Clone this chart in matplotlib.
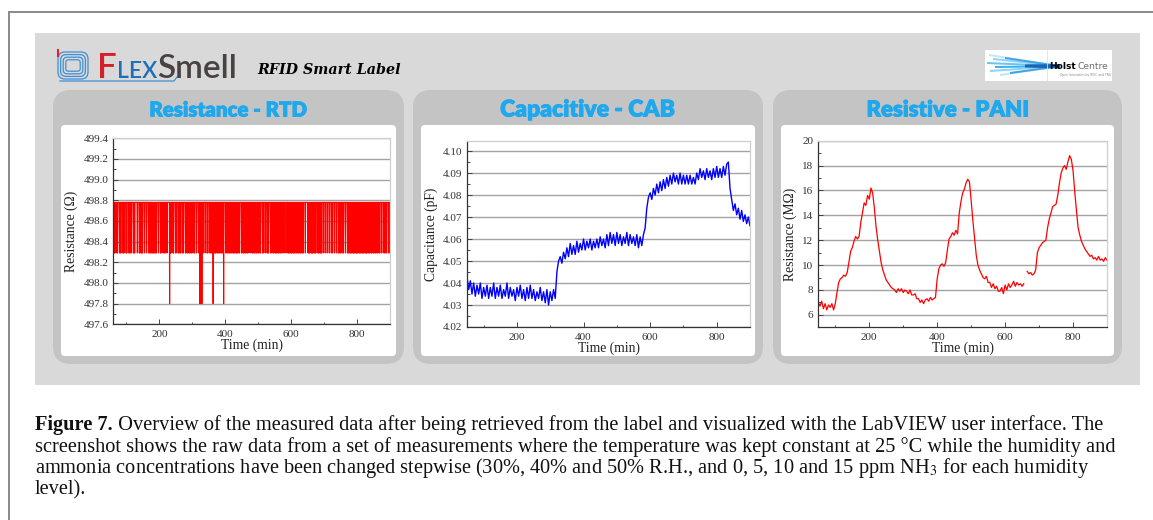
import numpy as np
import matplotlib
matplotlib.use("Agg")
import matplotlib.pyplot as plt
import matplotlib.patheffects as pe
from matplotlib.patches import FancyBboxPatch, Rectangle, Polygon
from matplotlib.ticker import MultipleLocator, FixedLocator, FormatStrFormatter

plt.rcParams['font.family'] = ['Liberation Serif', 'DejaVu Serif']
plt.rcParams['mathtext.fontset'] = 'stix'

# ---------------- data ----------------
time_ticks = [200, 400, 600, 800]

# RTD: reading flips between two quantised levels; intervals (min) with dense flipping
rtd_high = 498.78
rtd_low = 498.29
rtd_drop = 497.80
rtd_toggle_intervals = [
    (60, 65), (70, 73), (78, 84), (89, 93), (98, 101), (106, 109), (113, 115),
    (120, 126), (132, 134), (138, 141), (145, 149), (154, 156), (160, 162),
    (166, 168), (171, 175), (179, 183), (187, 191), (196, 198), (203, 205),
    (210, 212), (215, 218), (222, 224), (232, 236), (240, 244), (248, 252),
    (257, 259), (263, 266), (270, 274), (278, 281), (285, 287), (291, 293),
    (297, 300), (304, 308), (312, 314), (318, 320), (323, 333), (338, 340),
    (344, 348), (352, 356), (359, 363), (367, 371), (375, 379), (382, 386),
    (389, 391), (394, 396), (401, 403), (407, 409), (413, 415), (419, 421),
    (425, 429), (433, 437), (441, 444), (448, 451), (454, 457), (461, 463),
    (466, 470), (474, 476), (480, 483), (487, 489), (493, 495), (499, 501),
    (504, 508), (512, 516), (520, 522), (527, 532), (536, 540), (544, 548),
    (551, 555), (559, 563), (567, 570), (574, 576), (580, 582), (586, 588),
    (591, 595), (599, 603), (607, 611), (615, 617), (621, 623), (627, 631),
    (635, 638), (642, 644), (651, 657), (661, 667), (670, 676), (680, 685),
    (689, 694), (698, 700), (704, 706), (710, 712), (716, 718), (722, 726),
    (730, 732), (736, 738), (742, 745), (749, 752), (756, 760), (764, 766),
    (770, 775), (779, 784), (787, 793), (797, 803), (806, 812), (815, 821),
    (825, 831), (834, 839), (843, 845), (849, 851), (855, 857), (861, 863),
    (867, 870), (874, 876), (880, 883), (887, 890), (894, 896), (899, 900)]
rtd_drop_times = [231, 323, 325, 329, 363, 395]

# Capacitance (pF), sampled every 5 min from 50 min
cap_t0, cap_dt = 50, 5
cap_values = [
    4.043, 4.037, 4.041, 4.035, 4.040, 4.034, 4.039, 4.035, 4.040, 4.033,
    4.038, 4.034, 4.039, 4.033, 4.038, 4.034, 4.040, 4.033, 4.038, 4.034,
    4.039, 4.033, 4.037, 4.034, 4.040, 4.033, 4.038, 4.034, 4.037, 4.032,
    4.038, 4.034, 4.039, 4.033, 4.037, 4.032, 4.038, 4.033, 4.039, 4.033,
    4.037, 4.032, 4.036, 4.033, 4.038, 4.032, 4.036, 4.031, 4.037, 4.030,
    4.036, 4.032, 4.037, 4.033, 4.045, 4.050, 4.052, 4.049, 4.054, 4.051,
    4.056, 4.052, 4.058, 4.053, 4.057, 4.053, 4.059, 4.054, 4.058, 4.055,
    4.060, 4.055, 4.059, 4.056, 4.060, 4.055, 4.059, 4.056, 4.060, 4.056,
    4.061, 4.057, 4.060, 4.056, 4.062, 4.057, 4.063, 4.058, 4.062, 4.057,
    4.063, 4.058, 4.062, 4.057, 4.061, 4.058, 4.063, 4.057, 4.062, 4.058,
    4.061, 4.057, 4.062, 4.056, 4.061, 4.057, 4.062, 4.065, 4.074, 4.079,
    4.081, 4.078, 4.083, 4.080, 4.085, 4.081, 4.086, 4.082, 4.087, 4.083,
    4.088, 4.084, 4.089, 4.085, 4.090, 4.086, 4.089, 4.085, 4.090, 4.085,
    4.089, 4.085, 4.089, 4.085, 4.089, 4.085, 4.088, 4.085, 4.090, 4.087,
    4.092, 4.088, 4.091, 4.087, 4.092, 4.088, 4.091, 4.087, 4.092, 4.088,
    4.093, 4.088, 4.092, 4.088, 4.093, 4.089, 4.094, 4.095, 4.083, 4.078,
    4.073, 4.076, 4.071, 4.074, 4.069, 4.073, 4.068, 4.071, 4.067, 4.070,
    4.066]

# PANI resistance (MOhm), sampled every 5 min from 50 min (nan = gap in record)
pani_t0, pani_dt = 50, 5
pani_values = [
    7.0, 6.7, 7.1, 6.5, 6.9, 6.4, 6.8, 6.6, 6.9, 6.4,
    6.9, 7.8, 8.6, 8.9, 9.0, 9.2, 9.1, 9.4, 10.2, 11.1,
    11.4, 11.9, 12.3, 12.1, 12.3, 13.4, 14.2, 15.0, 14.8, 15.6,
    15.3, 16.2, 15.8, 14.6, 13.1, 12.0, 11.1, 10.2, 9.6, 9.2,
    8.8, 8.6, 8.4, 8.2, 8.1, 8.0, 7.8, 8.1, 7.9, 8.1,
    7.8, 8.0, 7.9, 7.7, 8.0, 7.6, 7.6, 7.7, 7.3, 7.3,
    7.0, 7.2, 6.9, 7.2, 7.3, 7.1, 7.4, 7.2, 7.3, 7.4,
    8.9, 9.7, 10.0, 10.1, 9.9, 10.2, 11.2, 12.1, 12.3, 12.6,
    12.4, 12.8, 12.5, 14.2, 15.1, 15.8, 16.1, 16.6, 16.9, 16.7,
    15.2, 13.6, 12.2, 10.8, 10.0, 9.6, 9.3, 9.0, 8.9, 9.1,
    8.6, 8.6, 8.2, 8.5, 8.1, 8.3, 7.9, 7.9, 8.2, 7.7,
    8.4, 8.0, 8.5, 8.2, 8.4, 8.7, 8.3, 8.6, 8.4, 8.5,
    8.3, 8.5, np.nan, 9.5, 9.3, 9.4, 9.2, 9.3, 9.6, 11.0,
    11.4, 11.6, 11.8, 11.9, 12.0, 13.0, 13.7, 14.2, 14.7, 14.8,
    14.9, 15.6, 16.6, 17.4, 17.8, 18.0, 17.7, 18.3, 18.8, 18.5,
    17.6, 15.9, 14.4, 13.0, 12.4, 11.9, 11.6, 11.3, 11.1, 10.9,
    10.7, 10.8, 10.5, 10.6, 10.4, 10.7, 10.4, 10.5, 10.3, 10.6,
    10.4]

panel_titles = ["Resistance - RTD", "Capacitive - CAB", "Resistive - PANI"]
title_widths = [158, 175, 163]
y_labels = ["Resistance (\u03a9)", "Capacitance (pF)", "Resistance (M\u03a9)"]
x_label = "Time (min)"

caption_bold = "Figure 7."
caption_lines = [
    " Overview of the measured data after being retrieved from the label and visualized with the LabVIEW user interface. The",
    "screenshot shows the raw data from a set of measurements where the temperature was kept constant at 25 \u00b0C while the humidity and",
    "ammonia concentrations have been changed stepwise (30%, 40% and 50% R.H., and 0, 5, 10 and 15 ppm NH$_3$ for each humidity",
    "level).",
]

# ---------------- series ----------------
rtd_t = np.arange(60, 901)
rtd_v = np.full(rtd_t.shape, rtd_high, dtype=float)
for a, b in rtd_toggle_intervals:
    m = (rtd_t >= a) & (rtd_t <= b) & (rtd_t % 2 == 1)
    rtd_v[m] = rtd_low
for d in rtd_drop_times:
    rtd_v[rtd_t == d] = rtd_drop

cap_v = np.array(cap_values)
cap_t = cap_t0 + cap_dt * np.arange(len(cap_v))
pani_v = np.array(pani_values, dtype=float)
pani_t = pani_t0 + pani_dt * np.arange(len(pani_v))

# ---------------- figure ----------------
W, H = 1153, 520
fig = plt.figure(figsize=(W / 100, H / 100), dpi=100)
bg = fig.add_axes([0, 0, 1, 1])
bg.set_xlim(0, W)
bg.set_ylim(H, 0)
bg.axis('off')
bg.set_zorder(0)
renderer = fig.canvas.get_renderer()


def text_width(t):
    return t.get_window_extent(renderer).width


def fit_text(x, y, s, target_w, size0=12, **kw):
    t = bg.text(x, y, s, fontsize=size0, **kw)
    w = text_width(t)
    t.set_fontsize(size0 * target_w / w)
    return t


# outer frame
bg.plot([9, 9, W], [H, 12, 12], color='#808080', lw=1.3, solid_joinstyle='miter')
# big light gray panel
bg.add_patch(Rectangle((35, 33), 1105, 352, fc='#d9d9d9', ec='none'))

panels = [(53, 404), (413, 763), (773, 1122)]
for (x0, x1), title, tw in zip(panels, panel_titles, title_widths):
    bg.add_patch(FancyBboxPatch((x0, 90), x1 - x0, 274,
                                boxstyle='round,pad=0,rounding_size=18',
                                fc='#c4c4c4', ec='none'))
    bg.add_patch(FancyBboxPatch((x0 + 8, 125), x1 - x0 - 16, 231,
                                boxstyle='round,pad=0,rounding_size=4',
                                fc='white', ec='none'))
    t = fit_text((x0 + x1) / 2, 110, title, tw - 1,
                 ha='center', va='center', color='#1ea8ee', weight='heavy',
                 family=['Lato', 'DejaVu Sans'])
    t.set_path_effects([pe.withStroke(linewidth=0.6, foreground='#1ea8ee')])

# FlexSmell logo
for i in range(4):
    bg.add_patch(FancyBboxPatch((58 + 2.6 * i, 52 + 2.6 * i), 30 - 5.2 * i, 27 - 5.2 * i,
                                boxstyle='round,pad=0,rounding_size=%g' % (7 - 1.5 * i),
                                fc='none', ec='#3f8fd6', lw=0.9))
bg.plot([60, 174, 177], [81, 81, 77], color='#3f8fd6', lw=0.9)
bg.plot([58, 58], [50, 56], color='#d9262e', lw=1.5)
runs = [('F', 25, '#d3202a'), ('LEX', 16.5, '#1c6fb8'), ('Smell', 24, '#4a4242')]
xs = 97
for s, fs, c in runs:
    t = bg.text(xs, 78, s, fontsize=fs, color=c, va='baseline', ha='left',
                family=['Lato', 'DejaVu Sans'], weight='semibold')
    xs += text_width(t)
fit_text(257, 74, 'RFID Smart Label', 143, color='black', va='baseline', ha='left',
         family=['DejaVu Serif'], style='italic', weight='bold')

# Holst Centre logo
bg.add_patch(Rectangle((985, 50), 127, 31, fc='white', ec='none'))
bg.plot([1047, 1047], [50, 81], color='#e0e0e0', lw=0.6)
streaks = [(989, 55, '#bfe6fa'), (993, 59, '#8fd3f6'), (987, 63, '#6cc4f2'),
           (995, 67, '#3fb0ec'), (990, 71, '#8fd3f6'), (1000, 75, '#bfe6fa'),
           (1005, 58, '#3fa4e6'), (1010, 73, '#3fa4e6')]
for xl, yl, c in streaks:
    bg.add_patch(Polygon([(xl, yl - 1.0), (1060, 65.2), (1060, 67.2), (xl, yl + 1.0)],
                         closed=True, fc=c, ec='none'))
bg.add_patch(Polygon([(1025, 64.5), (1060, 64), (1060, 68.5), (1025, 67.5)],
                     closed=True, fc='#1a64b4', ec='none'))
th = bg.text(1049, 66.5, 'Holst', fontsize=6.6, weight='bold', color='black',
             va='center', ha='left', family=['DejaVu Sans'])
bg.text(1049 + text_width(th) + 1.5, 66.5, 'Centre', fontsize=6.6, color='#6e6e6e',
        va='center', ha='left', family=['DejaVu Sans'])
bg.text(1060, 75, 'Open Innovation by IMEC and TNO', fontsize=2.2, color='#888888',
        va='center', ha='left', family=['DejaVu Sans'])


# ---------------- data axes ----------------
def px_rect(x0, y0, x1, y1):
    return [x0 / W, 1 - y1 / H, (x1 - x0) / W, (y1 - y0) / H]


def style(ax, xlim, ylim, major, minor, fmt, ylabel, ypad):
    ax.set_zorder(2)
    ax.set_xlim(*xlim)
    ax.set_ylim(*ylim)
    ax.xaxis.set_major_locator(FixedLocator(time_ticks))
    ax.xaxis.set_minor_locator(MultipleLocator(100))
    ax.yaxis.set_major_locator(MultipleLocator(major))
    ax.yaxis.set_minor_locator(MultipleLocator(minor))
    ax.yaxis.set_major_formatter(FormatStrFormatter(fmt))
    ax.grid(axis='y', which='major', color='#a3a3a3', lw=1.0)
    ax.set_axisbelow(True)
    ax.tick_params(which='both', direction='in', colors='#444444', labelcolor='#333333',
                   labelsize=8, width=0.7)
    ax.tick_params(which='major', length=3.5)
    ax.tick_params(which='minor', length=1.8)
    ax.tick_params(axis='x', pad=4.0)
    ax.tick_params(axis='y', pad=3.5)
    for sp in ('left', 'bottom'):
        ax.spines[sp].set_color('#333333')
        ax.spines[sp].set_linewidth(0.9)
    for sp in ('top', 'right'):
        ax.spines[sp].set_color('#cfcfcf')
        ax.spines[sp].set_linewidth(0.9)
    ax.set_xlabel(x_label, fontsize=9.8, color='#222222', labelpad=0.0)
    ax.set_ylabel(ylabel, fontsize=9.8, color='#222222', labelpad=ypad)


ax1 = fig.add_axes(px_rect(113.3, 138.3, 390, 324.3))
ax1.plot(rtd_t, rtd_v, color='#ff0000', lw=0.8)
style(ax1, (60, 900), (497.6, 499.4), 0.2, 0.1, '%.1f', y_labels[0], 3.5)

ax2 = fig.add_axes(px_rect(467, 140.7, 750, 327))
ax2.plot(cap_t, cap_v, color='#0000ff', lw=1.0)
style(ax2, (50, 900), (4.02, 4.1047), 0.01, 0.005, '%.2f', y_labels[1], 3.5)

ax3 = fig.add_axes(px_rect(818.3, 140.7, 1107, 327.3))
ax3.plot(pani_t, pani_v, color='#ff0000', lw=0.9)
style(ax3, (50, 900), (5, 20), 2, 1, '%d', y_labels[2], 3.5)

# ---------------- caption ----------------
cap_kw = dict(family=['Liberation Serif', 'DejaVu Serif'], color='#111111',
              va='baseline', ha='left')
probe = bg.text(35, 452, caption_lines[1], fontsize=14, **cap_kw)
cfs = 14 * 1085 / text_width(probe)
probe.set_fontsize(cfs)
tb = bg.text(35, 430, caption_bold, fontsize=cfs, weight='bold', **cap_kw)
bg.text(35 + text_width(tb), 430, caption_lines[0], fontsize=cfs, **cap_kw)
bg.text(35, 473, caption_lines[2], fontsize=cfs, **cap_kw)
bg.text(35, 494, caption_lines[3], fontsize=cfs, **cap_kw)

fig.savefig('out.png', dpi=100)
